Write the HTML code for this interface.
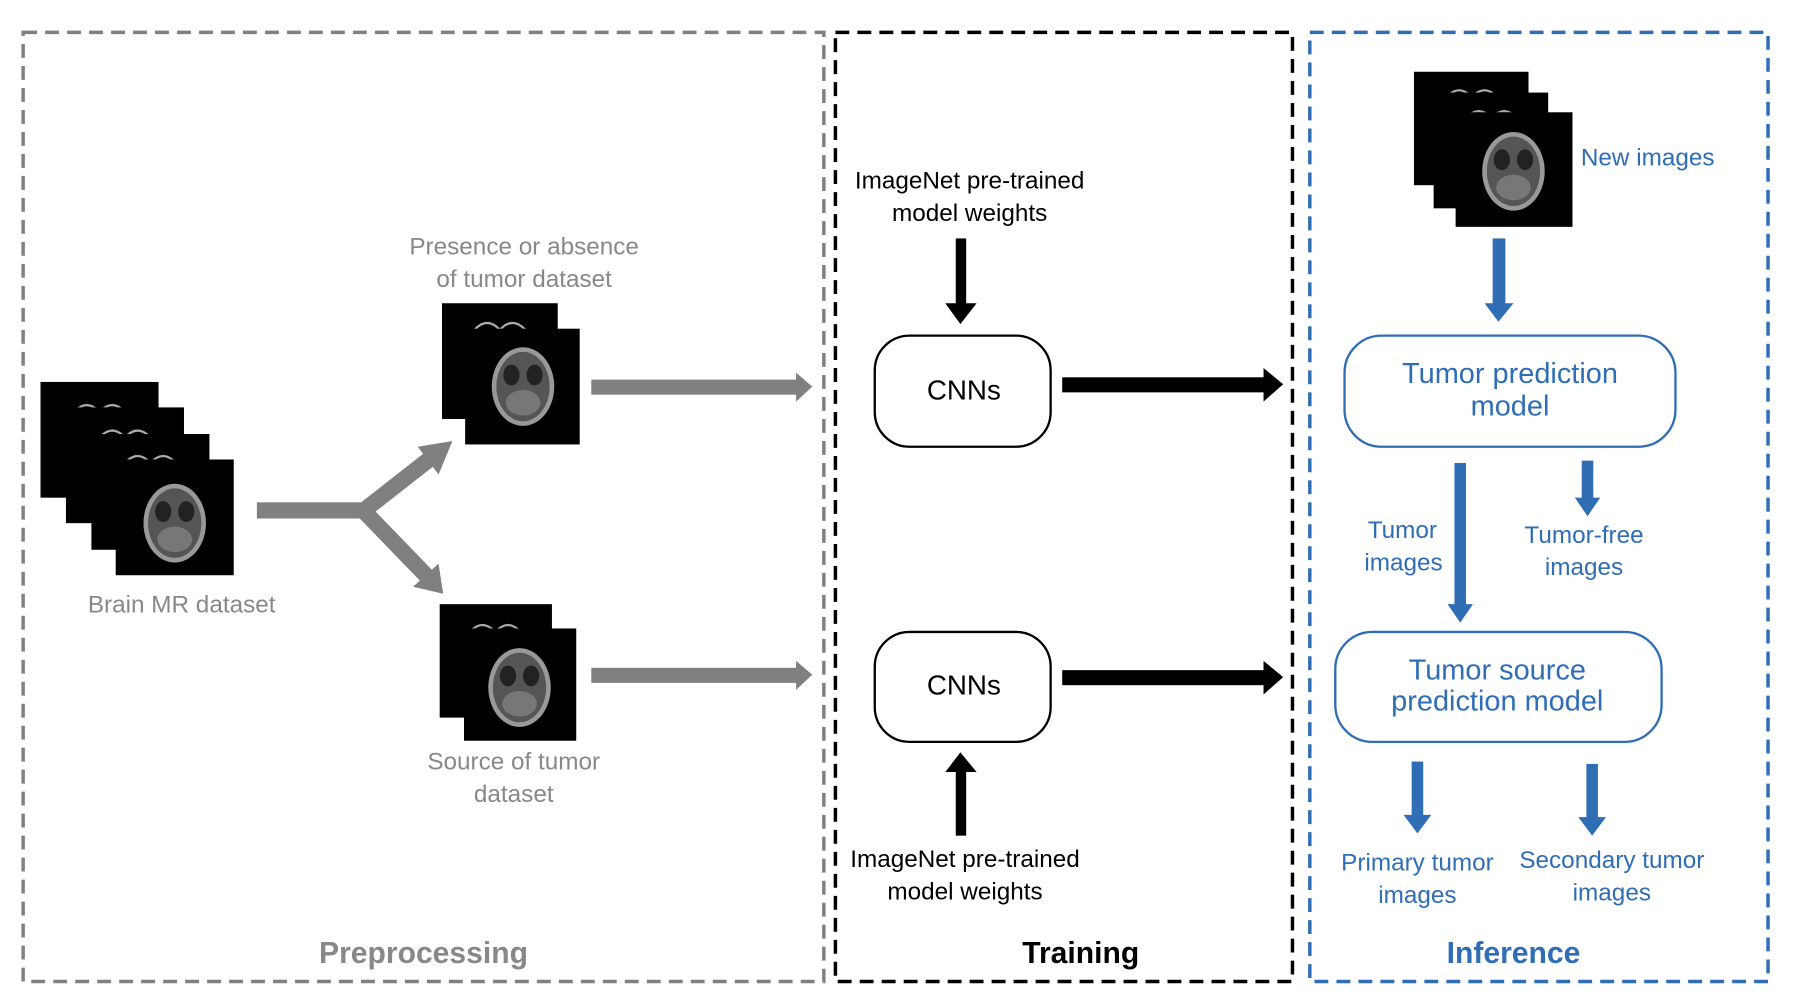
<!DOCTYPE html>
<html><head><meta charset="utf-8"><style>
html,body{margin:0;padding:0;background:#fff;}
svg{display:block;}
text{font-family:"Liberation Sans",sans-serif;}
</style></head><body>
<svg width="1812" height="1000" viewBox="0 0 1566 864" preserveAspectRatio="none" xmlns="http://www.w3.org/2000/svg">
<defs>
<g id="brain">
<ellipse cx="0" cy="4" rx="27" ry="34" fill="#999"/>
<ellipse cx="0" cy="4" rx="23" ry="30" fill="#555"/>
<ellipse cx="-10" cy="-6" rx="7" ry="9" fill="#222"/>
<ellipse cx="10" cy="-6" rx="7" ry="9" fill="#222"/>
<ellipse cx="0" cy="18" rx="15" ry="11" fill="#777"/>
</g>
<g id="top">
<path d="M-22,0 q11,-12 22,0 q11,-12 22,0" stroke="#aaa" stroke-width="2" fill="none"/>
</g>
</defs>
<!-- frames -->
<rect x="20" y="28" width="692" height="820" fill="none" stroke="#808080" stroke-width="3" stroke-dasharray="12,7"/>
<rect x="722" y="28" width="395" height="820" fill="none" stroke="#000" stroke-width="3" stroke-dasharray="12,7"/>
<rect x="1132" y="28" width="396" height="820" fill="none" stroke="#2f6db5" stroke-width="3" stroke-dasharray="12,7"/>

<!-- Brain MR stack -->
<rect x="35" y="330" width="102" height="100" fill="#000"/><use href="#top" x="86" y="356"/>
<rect x="57" y="352" width="102" height="100" fill="#000"/><use href="#top" x="108" y="378"/>
<rect x="79" y="375" width="102" height="100" fill="#000"/><use href="#top" x="130" y="400"/>
<rect x="100" y="397" width="102" height="100" fill="#000"/><use href="#brain" x="151" y="448"/>
<text x="157" y="529" font-size="21" fill="#888" text-anchor="middle">Brain MR dataset</text>

<!-- presence stack -->
<text x="453" y="220" font-size="21" fill="#888" text-anchor="middle">Presence or absence</text>
<text x="453" y="248" font-size="21" fill="#888" text-anchor="middle">of tumor dataset</text>
<rect x="382" y="262" width="100" height="100" fill="#000"/><use href="#top" x="432" y="285"/>
<rect x="402" y="284" width="99" height="100" fill="#000"/><use href="#brain" x="452" y="330"/>
<!-- source stack -->
<rect x="380" y="522" width="97" height="98" fill="#000"/><use href="#top" x="428" y="546"/>
<rect x="401" y="543" width="97" height="97" fill="#000"/><use href="#brain" x="449" y="590"/>
<text x="444" y="665" font-size="21" fill="#888" text-anchor="middle">Source of tumor</text>
<text x="444" y="693" font-size="21" fill="#888" text-anchor="middle">dataset</text>

<!-- gray arrows -->
<g fill="#808080" stroke="none">
<rect x="222" y="434" width="95" height="14"/>
<line x1="312" y1="443" x2="372" y2="396" stroke="#808080" stroke-width="14"/>
<polygon points="379,410 361,386 391,381"/>
<line x1="312" y1="439" x2="370" y2="499" stroke="#808080" stroke-width="14"/>
<polygon points="379,487 357,507 383,513"/>
<rect x="511" y="328" width="180" height="13"/>
<polygon points="688,322 702,334 688,347"/>
<rect x="511" y="577" width="180" height="13"/>
<polygon points="688,571 702,583 688,596"/>
</g>
<text x="366" y="832" font-size="26" font-weight="bold" fill="#888" text-anchor="middle">Preprocessing</text>

<!-- training -->
<text x="838" y="163" font-size="21" fill="#000" text-anchor="middle">ImageNet pre-trained</text>
<text x="838" y="191" font-size="21" fill="#000" text-anchor="middle">model weights</text>
<rect x="826" y="206" width="9" height="60" fill="#000"/>
<polygon points="817,262 844,262 830,280" fill="#000"/>
<rect x="756" y="290" width="152" height="96" rx="30" fill="#fff" stroke="#000" stroke-width="2"/>
<text x="833" y="345" font-size="24" fill="#000" text-anchor="middle">CNNs</text>
<rect x="918" y="326" width="176" height="13" fill="#000"/>
<polygon points="1092,318 1109,332 1092,347" fill="#000"/>

<rect x="756" y="546" width="152" height="95" rx="30" fill="#fff" stroke="#000" stroke-width="2"/>
<text x="833" y="600" font-size="24" fill="#000" text-anchor="middle">CNNs</text>
<rect x="918" y="579" width="176" height="13" fill="#000"/>
<polygon points="1092,571 1109,585 1092,600" fill="#000"/>
<rect x="826" y="664" width="9" height="58" fill="#000"/>
<polygon points="817,667 844,667 830,650" fill="#000"/>
<text x="834" y="749" font-size="21" fill="#000" text-anchor="middle">ImageNet pre-trained</text>
<text x="834" y="777" font-size="21" fill="#000" text-anchor="middle">model weights</text>
<text x="934" y="832" font-size="26" font-weight="bold" fill="#000" text-anchor="middle">Training</text>

<!-- inference -->
<rect x="1222" y="62" width="99" height="98" fill="#000"/><use href="#top" x="1272" y="84"/>
<rect x="1239" y="80" width="99" height="100" fill="#000"/><use href="#top" x="1289" y="102"/>
<rect x="1258" y="97" width="101" height="99" fill="#000"/><use href="#brain" x="1308" y="144"/>
<text x="1424" y="143" font-size="21" fill="#2f6db5" text-anchor="middle">New images</text>
<g fill="#2f6db5">
<rect x="1290" y="206" width="11" height="58"/>
<polygon points="1283,262 1308,262 1295,278"/>
<rect x="1257" y="400" width="10" height="124"/>
<polygon points="1251,522 1273,522 1262,538"/>
<rect x="1367" y="398" width="10" height="34"/>
<polygon points="1361,430 1383,430 1372,446"/>
<rect x="1220" y="658" width="10" height="48"/>
<polygon points="1213,704 1237,704 1225,720"/>
<rect x="1371" y="660" width="10" height="48"/>
<polygon points="1364,706 1388,706 1376,722"/>
</g>
<rect x="1162" y="290" width="286" height="96" rx="32" fill="#fff" stroke="#2f6db5" stroke-width="2"/>
<text x="1305" y="331" font-size="25" fill="#2f6db5" text-anchor="middle">Tumor prediction</text>
<text x="1305" y="359" font-size="25" fill="#2f6db5" text-anchor="middle">model</text>
<text x="1212" y="465" font-size="21" fill="#2f6db5" text-anchor="middle">Tumor</text>
<text x="1213" y="493" font-size="21" fill="#2f6db5" text-anchor="middle">images</text>
<text x="1369" y="469" font-size="21" fill="#2f6db5" text-anchor="middle">Tumor-free</text>
<text x="1369" y="497" font-size="21" fill="#2f6db5" text-anchor="middle">images</text>
<rect x="1154" y="546" width="282" height="95" rx="32" fill="#fff" stroke="#2f6db5" stroke-width="2"/>
<text x="1294" y="587" font-size="25" fill="#2f6db5" text-anchor="middle">Tumor source</text>
<text x="1294" y="614" font-size="25" fill="#2f6db5" text-anchor="middle">prediction model</text>
<text x="1225" y="752" font-size="21" fill="#2f6db5" text-anchor="middle">Primary tumor</text>
<text x="1225" y="780" font-size="21" fill="#2f6db5" text-anchor="middle">images</text>
<text x="1393" y="750" font-size="21" fill="#2f6db5" text-anchor="middle">Secondary tumor</text>
<text x="1393" y="778" font-size="21" fill="#2f6db5" text-anchor="middle">images</text>
<text x="1308" y="832" font-size="26" font-weight="bold" fill="#2f6db5" text-anchor="middle">Inference</text>
</svg>
</body></html>
